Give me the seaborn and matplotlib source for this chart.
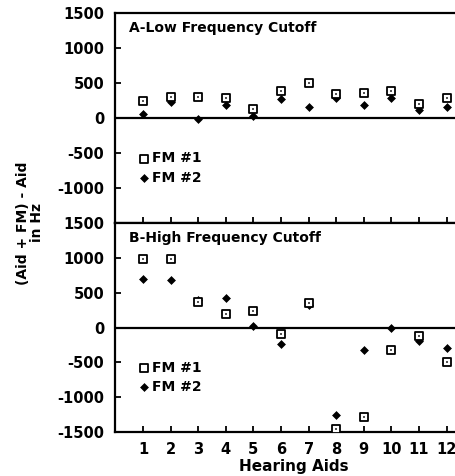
import pandas as pd
import seaborn as sns
import matplotlib.pyplot as plt
import numpy as np

# =========================
# Datos
# =========================
aids = [1, 2, 3, 4, 5, 6, 7, 8, 9, 10, 11, 12]

low_fm1 = [250, 300, 300, 280, 130, 380, 500, 350, 355, 390, 195, 285]
low_fm2 = [60, 230, -10, 190, 30, 275, 155, 285, 180, 290, 115, 160]

high_fm1 = [990, 980, 370, 200, 240, -90, 350, -1450, -1290, -320, -120, -490]
high_fm2 = [700, 680, 400, 430, 20, -230, 320, -1250, -330, 0, -200, -300]

yticks_top = [1500, 1000, 500, 0, -500, -1000]
yticks_bottom = [1500, 1000, 500, 0, -500, -1000, -1500]

titles = ["A-Low Frequency Cutoff", "B-High Frequency Cutoff"]

plt.rcParams["font.family"] = "DejaVu Sans"
plt.rcParams["font.weight"] = "bold"
plt.rcParams["axes.unicode_minus"] = False

fig = plt.figure(figsize=(4.56, 4.76), dpi=100)
W, H = 456, 476
left = 115.4 / W
ax_top = fig.add_axes([left, 1 - 223 / H, 1 - left, 210 / H])
ax_bot = fig.add_axes([left, 1 - 432 / H, 1 - left, 209 / H])


def draw_panel(ax, fm1, fm2, title, yticks):
    df = pd.DataFrame({"Aid": aids, "FM1": fm1, "FM2": fm2})
    ax.axhline(0, color="black", lw=1.6, zorder=1)
    sns.scatterplot(data=df, x="Aid", y="FM2", ax=ax, marker="D", s=16,
                    color="black", edgecolor="black", linewidth=0.5,
                    label="FM #2", zorder=3)
    sns.scatterplot(data=df, x="Aid", y="FM1", ax=ax, marker="s", s=26,
                    facecolor="white", edgecolor="black", linewidth=1.3,
                    label="FM #1", zorder=4)
    # punto central del cuadrado
    sns.scatterplot(data=df, x="Aid", y="FM1", ax=ax, marker="s", s=3,
                    color="#555555", linewidth=0, zorder=5, legend=False)

    ax.set_xlim(0, 12.34)
    ax.set_ylim(-1500, 1500)
    ax.set_yticks(yticks)
    ax.set_yticklabels([str(t) for t in yticks], fontsize=10.5, fontweight="bold")
    ax.set_xticks(aids)
    ax.tick_params(axis="both", direction="in", length=4, width=1.3)
    ax.tick_params(axis="y", pad=8)
    ax.tick_params(axis="x", pad=7)
    ax.set_xlabel("")
    ax.set_ylabel("")
    for s in ["left", "bottom", "top"]:
        ax.spines[s].set_linewidth(1.6)
    ax.spines["right"].set_visible(False)
    ax.text(0.04, 0.93, title, transform=ax.transAxes, fontsize=10,
            fontweight="bold", va="center", ha="left")

    handles, labels = ax.get_legend_handles_labels()
    order = [labels.index("FM #1"), labels.index("FM #2")]
    ax.legend([handles[i] for i in order], [labels[i] for i in order],
              loc="upper left", bbox_to_anchor=(0.05, 0.375), frameon=False,
              handlelength=0.6, handletextpad=0.3, labelspacing=0.4,
              borderpad=0, prop={"size": 10, "weight": "bold"})


draw_panel(ax_top, low_fm1, low_fm2, titles[0], yticks_top)
draw_panel(ax_bot, high_fm1, high_fm2, titles[1], yticks_bottom)

ax_top.set_xticklabels([])
ax_bot.set_xticklabels([str(a) for a in aids], fontsize=10.5, fontweight="bold")
ax_bot.set_xlabel("Hearing Aids", fontsize=11, fontweight="bold")
ax_bot.xaxis.set_label_coords(0.524, 1 - (466 - 223) / 209, transform=ax_bot.transAxes)
ax_bot.xaxis.label.set_va("center")

fig.text(30 / W, 1 - 223 / H, "(Aid + FM) - Aid\nin Hz", rotation=90,
         ha="center", va="center", multialignment="center",
         fontsize=10, fontweight="bold", linespacing=1.05)

plt.savefig("out.png", dpi=100)
plt.close(fig)
